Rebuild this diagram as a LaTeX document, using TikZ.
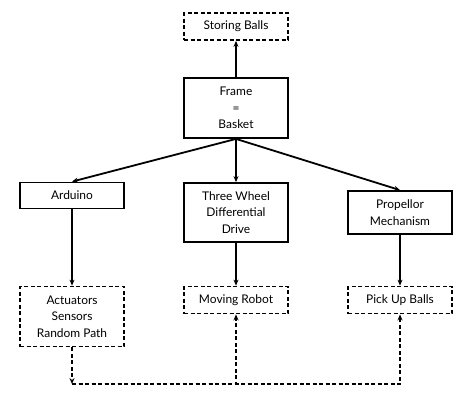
\documentclass[tikz,border=0pt]{standalone}
\usepackage{fontspec}
\setmainfont{Lato}
\usepackage{tikz}
\usetikzlibrary{arrows.meta}

\tikzset{
  box/.style={draw=black, line width=1.8bp, fill=white, align=center, minimum width=104bp, inner sep=2bp, font=\fontsize{12}{16.5}\selectfont},
  dbox/.style={box, dash pattern=on 4bp off 2.5bp},
  arr/.style={line width=1.8bp, -{Stealth[length=6bp,width=5bp]}},
  darr/.style={arr, dash pattern=on 4bp off 2.5bp}
}

\begin{document}
\begin{tikzpicture}[x=1bp, y=-1bp]
   \useasboundingbox (0,0) rectangle (469,402);

   % top row
   \node[dbox, minimum height=27bp] (store) at (236, 26.5) {Storing Balls};
   \node[box, minimum height=60bp] (frame) at (236, 108) {Frame\\=\\Basket};

   % middle row
   \node[box, minimum height=26bp] (ard) at (72, 195.5) {Arduino};
   \node[box, minimum height=59bp] (drive) at (236, 212.5) {Three Wheel\\Differential\\Drive};
   \node[box, minimum height=43bp] (prop) at (400, 212.5) {Propellor\\Mechanism};

   % bottom row
   \node[dbox, minimum height=60bp] (act) at (72, 316.5) {Actuators\\Sensors\\Random Path};
   \node[dbox, minimum height=27bp] (move) at (236, 300) {Moving Robot};
   \node[dbox, minimum height=27bp] (pick) at (400, 300) {Pick Up Balls};
   \coordinate (corner) at (72, 384);

   \draw[arr] (frame) -- (store);
   \draw[arr] (frame.south) -- (ard.north);
   \draw[arr] (frame.south) -- (drive.north);
   \draw[arr] (frame.south) -- (prop.north);

   \draw[arr] (ard) -- (act);
   \draw[arr] (drive) -- (move);
   \draw[arr] (prop) -- (pick);

   \draw[darr] (act) -- (corner);
   \draw[darr] (corner) -| (move.south);
   \draw[darr] (corner) -| (pick.south);
\end{tikzpicture}
\end{document}
